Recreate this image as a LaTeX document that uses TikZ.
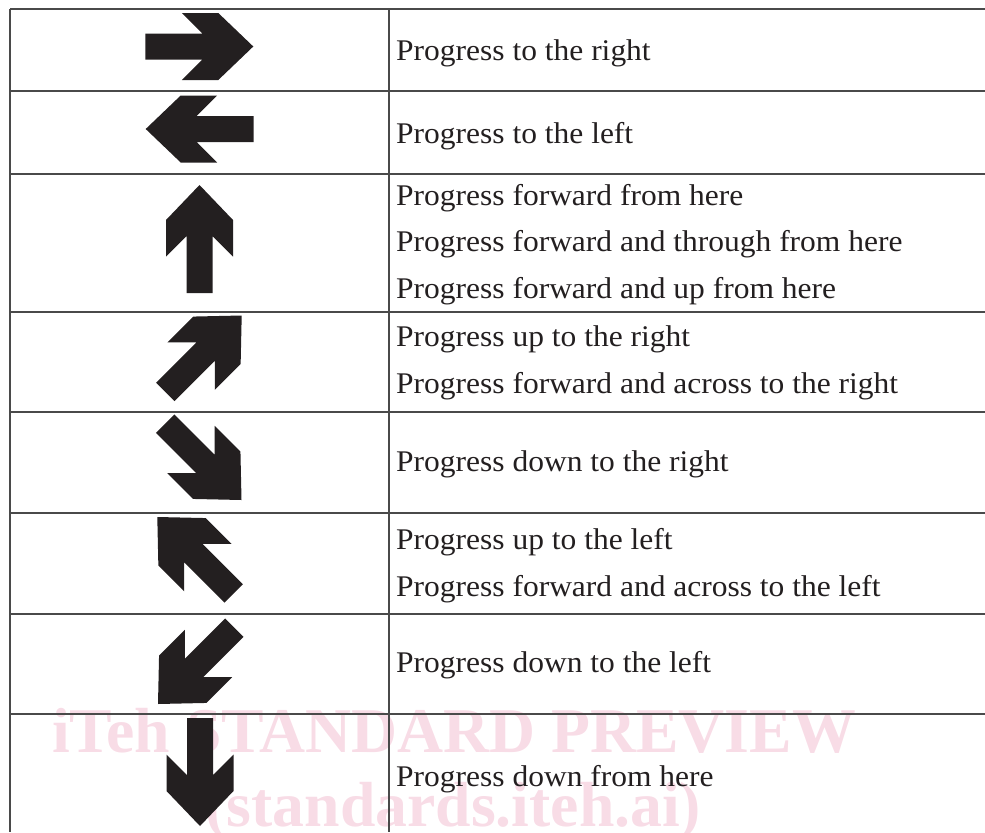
\documentclass[tikz,border=0pt]{standalone}
\usepackage{fontspec}
\setmainfont{Liberation Serif}[FakeStretch=1.05]
\newfontfamily\wmfont{Liberation Serif}
\usepackage{tikz}
\pgfdeclarelayer{bg}
\pgfsetlayers{bg,main}
\definecolor{ink}{HTML}{231F20}
\definecolor{rule}{HTML}{4A4A4A}
\definecolor{wmpink}{RGB}{248,220,230}
\tikzset{
  txt/.style={anchor=base west, inner sep=0pt, text=ink,
    font=\fontsize{25.6}{38}\selectfont},
  wm/.style={anchor=base, inner sep=0pt, text=wmpink,
    font=\wmfont\bfseries\fontsize{54.4}{60}\selectfont},
  bigarrow/.pic={
    \fill[ink] (0,0) -- (-1.05,1.005) -- (-2.145,1.005) -- (-1.53,0.39)
      -- (-3.24,0.39) -- (-3.24,-0.39) -- (-1.53,-0.39)
      -- (-2.145,-1.005) -- (-1.05,-1.005) -- cycle;
  }
}

\begin{document}
\begin{tikzpicture}
        \useasboundingbox (0cm, 0cm) rectangle (29.550000cm, -24.960000cm);
        % table rules
        \draw[rule, line width=2.5pt] (0.300000cm, -0.270000cm) -- (29.550000cm, -0.270000cm);
        \draw[rule, line width=2.5pt] (0.300000cm, -0.270000cm) -- (0.300000cm, -24.960000cm);
        \draw[rule, line width=1.5pt] (11.670000cm, -0.270000cm) -- (11.670000cm, -24.960000cm);
        \draw[rule, line width=1.7pt] (0.300000cm, -2.730000cm) -- (29.550000cm, -2.730000cm);
        \draw[rule, line width=1.7pt] (0.300000cm, -5.220000cm) -- (29.550000cm, -5.220000cm);
        \draw[rule, line width=1.7pt] (0.300000cm, -9.360000cm) -- (29.550000cm, -9.360000cm);
        \draw[rule, line width=1.7pt] (0.300000cm, -12.360000cm) -- (29.550000cm, -12.360000cm);
        \draw[rule, line width=1.7pt] (0.300000cm, -15.390000cm) -- (29.550000cm, -15.390000cm);
        \draw[rule, line width=1.7pt] (0.300000cm, -18.420000cm) -- (29.550000cm, -18.420000cm);
        \draw[rule, line width=1.7pt] (0.300000cm, -21.420000cm) -- (29.550000cm, -21.420000cm);
        % arrows
        \pic at (7.599000cm, -1.395000cm) {bigarrow};
        \pic[rotate=180] at (4.371000cm, -3.870000cm) {bigarrow};
        \pic[rotate=90] at (5.985000cm, -5.550000cm) {bigarrow};
        \pic[rotate=45] at (7.251000cm, -9.465000cm) {bigarrow};
        \pic[rotate=-45] at (7.245000cm, -15.000000cm) {bigarrow};
        \pic[rotate=135] at (4.719000cm, -15.510000cm) {bigarrow};
        \pic[rotate=-135] at (4.740000cm, -21.120000cm) {bigarrow};
        \pic[rotate=-90] at (6.000000cm, -24.780000cm) {bigarrow};
        % texts
        \node (v0) [txt] at (11.880000cm, -1.800000cm) {Progress to the right};
        \node (v1) [txt] at (11.880000cm, -4.290000cm) {Progress to the left};
        \node (v2) [txt] at (11.880000cm, -6.150000cm) {Progress forward from here};
        \node (v3) [txt] at (11.880000cm, -7.550000cm) {Progress forward and through from here};
        \node (v4) [txt] at (11.880000cm, -8.950000cm) {Progress forward and up from here};
        \node (v5) [txt] at (11.880000cm, -10.400000cm) {Progress up to the right};
        \node (v6) [txt] at (11.880000cm, -11.800000cm) {Progress forward and across to the right};
        \node (v7) [txt] at (11.880000cm, -14.150000cm) {Progress down to the right};
        \node (v8) [txt] at (11.880000cm, -16.480000cm) {Progress up to the left};
        \node (v9) [txt] at (11.880000cm, -17.900000cm) {Progress forward and across to the left};
        \node (v10) [txt] at (11.880000cm, -20.180000cm) {Progress down to the left};
        \node (v11) [txt] at (11.880000cm, -23.580000cm) {Progress down from here};
        \begin{pgfonlayer}{bg}
                \node (w0) [wm] at (13.620000cm, -22.580000cm) {iTeh STANDARD PREVIEW};
                \node (w1) [wm] at (13.600000cm, -24.800000cm) {(standards.iteh.ai)};
        \end{pgfonlayer}
\end{tikzpicture}
\end{document}
